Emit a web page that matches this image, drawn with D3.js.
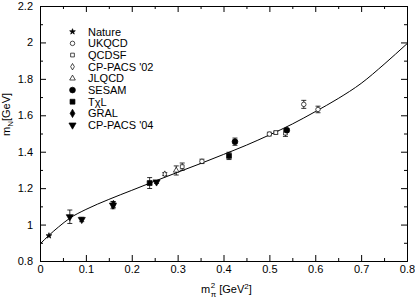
<!DOCTYPE html>
<html>
<head>
<meta charset="utf-8">
<script src="https://cdn.jsdelivr.net/npm/d3@7"></script>
<style>
  body { margin: 0; background: #fff; }
  svg text { font-family: "Liberation Sans", Arial, sans-serif; font-size: 11px; fill: #000; }
</style>
</head>
<body>
<div id="holder"></div>
<script>
// tick values
var xTicks = [0, 0.1, 0.2, 0.3, 0.4, 0.5, 0.6, 0.7, 0.8];
var xMinor = [0.05, 0.15, 0.25, 0.35, 0.45, 0.55, 0.65, 0.75];
var yTicks = [0.8, 1, 1.2, 1.4, 1.6, 1.8, 2, 2.2];
var yMinor = [0.9, 1.1, 1.3, 1.5, 1.7, 1.9, 2.1];

// legend order
var groups = ["Nature", "UKQCD", "QCDSF", "CP-PACS '02", "JLQCD", "SESAM", "T\u03c7L", "GRAL", "CP-PACS '04"];

// points: [m_pi^2, m_N, error]
var nature   = [[0.0195, 0.939, 0]];
var ukqcd    = [[0.353, 1.347, 0.012], [0.500, 1.497, 0.010], [0.575, 1.660, 0.022], [0.606, 1.632, 0.018]];
var qcdsf    = [[0.310, 1.318, 0.020], [0.514, 1.505, 0.008], [0.535, 1.502, 0.018]];
var cppacs02 = [[0.272, 1.277, 0.008]];
var jlqcd    = [[0.297, 1.297, 0.025]];
var sesam    = [[0.425, 1.455, 0.020], [0.538, 1.518, 0.010]];
var txl      = [[0.239, 1.228, 0.030], [0.412, 1.377, 0.020]];
var gral     = [[0.160, 1.110, 0.015]];
var cppacs04 = [[0.065, 1.043, 0.037], [0.091, 1.028, 0.012], [0.159, 1.107, 0.020], [0.254, 1.234, 0.008]];

// fit curve
var fitX = [0, 0.02, 0.04, 0.065, 0.1, 0.15, 0.2, 0.25, 0.3, 0.35, 0.4, 0.45, 0.5, 0.55, 0.6, 0.65, 0.7, 0.75, 0.8];
var fitY = [0.893, 0.942, 0.986, 1.035, 1.083, 1.138, 1.188, 1.238, 1.287, 1.335, 1.385, 1.436, 1.492, 1.552, 1.620, 1.692, 1.775, 1.880, 1.993];

var fullWidth = 415, fullHeight = 300;
var plotLeft = 40, plotRight = 407, plotTop = 6, plotBottom = 261;

var svg = d3.select('#holder').append('svg')
  .attr('width', fullWidth)
  .attr('height', fullHeight);

var xScale = d3.scaleLinear().domain([0, 0.8]).range([plotLeft, plotRight]);
var yScale = d3.scaleLinear().domain([0.8, 2.2]).range([plotBottom, plotTop]);

var fmt = function(d) { return +d.toFixed(2); };

// major + minor ticks on all four sides, pointing inward
function addAxis(axis, tx, ty) {
  var g = svg.append('g')
    .attr('transform', 'translate(' + tx + ',' + ty + ')')
    .call(axis);
  g.selectAll('path, line').attr('stroke', '#000');
  g.selectAll('text').attr('font-size', null).attr('font-family', null);
  return g;
}

addAxis(d3.axisBottom(xScale).tickValues(xTicks).tickFormat(fmt).tickSize(-6).tickSizeOuter(0).tickPadding(4), 0, plotBottom);
addAxis(d3.axisBottom(xScale).tickValues(xMinor).tickFormat('').tickSize(-3).tickSizeOuter(0), 0, plotBottom);
addAxis(d3.axisTop(xScale).tickValues(xTicks).tickFormat('').tickSize(-6).tickSizeOuter(0), 0, plotTop);
addAxis(d3.axisTop(xScale).tickValues(xMinor).tickFormat('').tickSize(-3).tickSizeOuter(0), 0, plotTop);
addAxis(d3.axisLeft(yScale).tickValues(yTicks).tickFormat(fmt).tickSize(-6).tickSizeOuter(0).tickPadding(7), plotLeft, 0);
addAxis(d3.axisLeft(yScale).tickValues(yMinor).tickFormat('').tickSize(-3).tickSizeOuter(0), plotLeft, 0);
addAxis(d3.axisRight(yScale).tickValues(yTicks).tickFormat('').tickSize(-6).tickSizeOuter(0), plotRight, 0);
addAxis(d3.axisRight(yScale).tickValues(yMinor).tickFormat('').tickSize(-3).tickSizeOuter(0), plotRight, 0);

// fit line
var fit = fitX.map(function(d, i) { return [d, fitY[i]]; });
svg.append('path')
  .datum(fit)
  .attr('fill', 'none')
  .attr('stroke', '#000')
  .attr('stroke-width', 1)
  .attr('d', d3.line()
    .x(function(d) { return xScale(d[0]); })
    .y(function(d) { return yScale(d[1]); })
    .curve(d3.curveMonotoneX));

// symbol styles per group
var styles = [
  {data: nature,   type: d3.symbolStar,     size: 10, fill: true},
  {data: ukqcd,    type: d3.symbolCircle,   size: 16, fill: false},
  {data: qcdsf,    type: d3.symbolSquare,   size: 14, fill: false},
  {data: cppacs02, type: d3.symbolDiamond,  size: 12, fill: false},
  {data: jlqcd,    type: d3.symbolTriangle, size: 14, fill: false},
  {data: sesam,    type: d3.symbolCircle,   size: 26, fill: true},
  {data: txl,      type: d3.symbolSquare,   size: 24, fill: true},
  {data: gral,     type: d3.symbolDiamond,  size: 20, fill: true},
  {data: cppacs04, type: d3.symbolTriangle, size: 22, fill: true, flip: true}
];

function drawSymbol(g, s, cx, cy) {
  g.append('path')
    .attr('d', d3.symbol().type(s.type).size(s.size)())
    .attr('transform', 'translate(' + cx + ',' + cy + ')' + (s.flip ? ' rotate(180)' : ''))
    .attr('fill', s.fill ? '#000' : '#fff')
    .attr('stroke', '#000')
    .attr('stroke-width', 0.7);
}

var marks = svg.append('g');
styles.forEach(function(s) {
  s.data.forEach(function(d) {
    var cx = xScale(d[0]);
    if (d[2] > 0) {
      var y1 = yScale(d[1] + d[2]), y2 = yScale(d[1] - d[2]);
      marks.append('line').attr('x1', cx).attr('x2', cx).attr('y1', y1).attr('y2', y2).attr('stroke', '#000').attr('stroke-width', 0.8);
      marks.append('line').attr('x1', cx - 2.5).attr('x2', cx + 2.5).attr('y1', y1).attr('y2', y1).attr('stroke', '#000').attr('stroke-width', 0.8);
      marks.append('line').attr('x1', cx - 2.5).attr('x2', cx + 2.5).attr('y1', y2).attr('y2', y2).attr('stroke', '#000').attr('stroke-width', 0.8);
    }
    drawSymbol(marks, s, cx, yScale(d[1]));
  });
});

// legend
var legend = svg.append('g');
groups.forEach(function(name, i) {
  var ly = 31.7 + i * 11.67;
  drawSymbol(legend, styles[i], 72.5, ly);
  legend.append('text').attr('x', 88).attr('y', ly + 4).text(name);
});

// axis titles
var xt = svg.append('text').attr('x', 201).attr('y', 293);
xt.append('tspan').text('m');
xt.append('tspan').attr('dx', 0.5).attr('dy', -5).attr('font-size', 8).text('2');
xt.append('tspan').attr('dx', -4.5).attr('dy', 9).attr('font-size', 8).text('\u03c0');
xt.append('tspan').attr('dy', -4).text(' [GeV');
xt.append('tspan').attr('dy', -4).attr('font-size', 8).text('2');
xt.append('tspan').attr('dy', 4).text(']');

var yt = svg.append('text').attr('transform', 'translate(10,136) rotate(-90)');
yt.append('tspan').text('m');
yt.append('tspan').attr('dy', 3).attr('font-size', 8).text('N');
yt.append('tspan').attr('dy', -3).text('[GeV]');
</script>
</body>
</html>
